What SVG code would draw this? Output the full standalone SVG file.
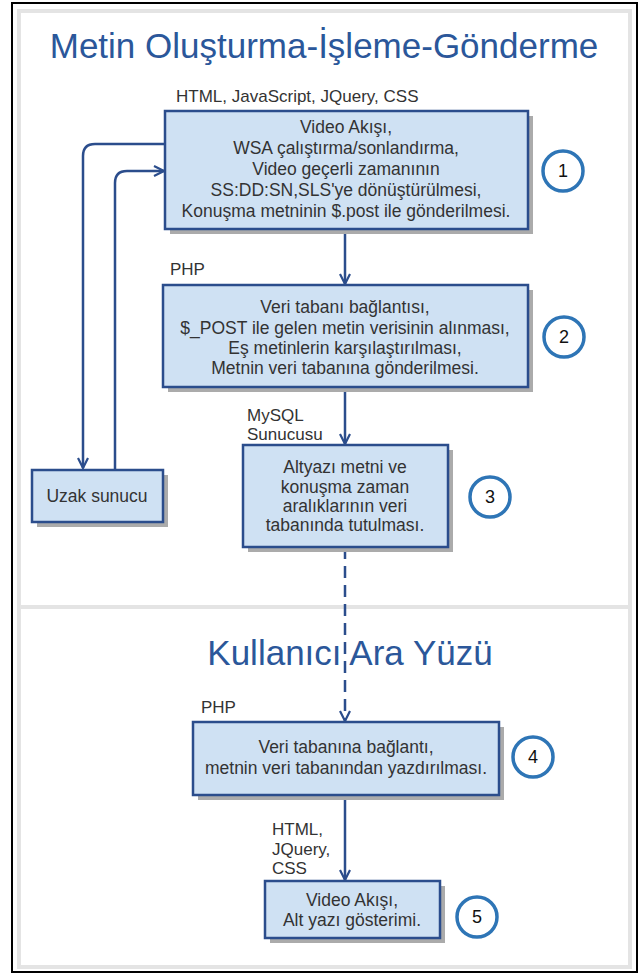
<svg xmlns="http://www.w3.org/2000/svg" width="642" height="974" viewBox="0 0 642 974">
<style>
.box{fill:#cfe1f3;stroke:#2b4d8c;stroke-width:2.5}
.shadow{fill:#ababab}
.t{font-family:"Liberation Sans",Arial,sans-serif;font-size:17.5px;fill:#333;text-anchor:middle}
.lbl{font-family:"Liberation Sans",Arial,sans-serif;font-size:17px;fill:#333}
.title{font-family:"Liberation Sans",Arial,sans-serif;fill:#2b579a;text-anchor:middle}
.num circle{fill:#fff;stroke:#2e75b6;stroke-width:3.5}
.num text{font-family:"Liberation Sans",Arial,sans-serif;font-size:18px;fill:#111;text-anchor:middle}
.conn{fill:none;stroke:#2b4d8c;stroke-width:2.5}
</style>
<defs>
<marker id="arr" viewBox="0 0 12 12" refX="11" refY="6" markerWidth="12" markerHeight="12" markerUnits="userSpaceOnUse" orient="auto">
<path d="M1,1 L11,6 L1,11" fill="none" stroke="#2b4d8c" stroke-width="2.2"/>
</marker>
</defs>
<rect x="0" y="0" width="642" height="974" fill="#fff"/>
<rect x="12" y="3" width="625" height="969" fill="none" stroke="#000" stroke-width="2"/>
<rect x="19" y="11" width="611" height="956" fill="none" stroke="#e4e4e4" stroke-width="4"/>
<line x1="19" y1="607" x2="630" y2="607" stroke="#e4e4e4" stroke-width="4"/>

<text class="title" x="324" y="58" font-size="35">Metin Oluşturma-İşleme-Gönderme</text>
<text class="title" x="350" y="665" font-size="35">Kullanıcı Ara Yüzü</text>

<g id="connectors">
<path class="conn" d="M165,144 H95 Q83,144 83,156 V468" marker-end="url(#arr)"/>
<path class="conn" d="M115,470 V183 Q115,171 127,171 H164" marker-end="url(#arr)"/>
<path class="conn" d="M345,229 V284" marker-end="url(#arr)"/>
<path class="conn" d="M345,387 V444" marker-end="url(#arr)"/>
<path class="conn" d="M345,547 V721" stroke-dasharray="12,7" marker-end="url(#arr)"/>
<path class="conn" d="M345,795 V880" marker-end="url(#arr)"/>
</g>

<g id="node1">
<text class="lbl" x="176" y="102">HTML, JavaScript, JQuery, CSS</text>
<rect class="shadow" x="170" y="116" width="363" height="118"/>
<rect class="box" x="165" y="111" width="363" height="118"/>
<text class="t" x="346" y="133">Video Akışı,</text>
<text class="t" x="346" y="154">WSA çalıştırma/sonlandırma,</text>
<text class="t" x="346" y="175">Video geçerli zamanının</text>
<text class="t" x="346" y="196">SS:DD:SN,SLS'ye dönüştürülmesi,</text>
<text class="t" x="346" y="217">Konuşma metninin $.post ile gönderilmesi.</text>
</g>
<g id="num1" class="num"><circle cx="563" cy="171" r="20"/><text x="563" y="177">1</text></g>

<g id="node2">
<text class="lbl" x="170" y="275">PHP</text>
<rect class="shadow" x="168" y="290" width="365" height="102"/>
<rect class="box" x="163" y="285" width="365" height="102"/>
<text class="t" x="345" y="313">Veri tabanı bağlantısı,</text>
<text class="t" x="345" y="334">$_POST ile gelen metin verisinin alınması,</text>
<text class="t" x="345" y="354">Eş metinlerin karşılaştırılması,</text>
<text class="t" x="345" y="374">Metnin veri tabanına gönderilmesi.</text>
</g>
<g id="num2" class="num"><circle cx="564" cy="337" r="20"/><text x="564" y="343">2</text></g>

<g id="node3">
<text class="lbl" x="247" y="421">MySQL</text>
<text class="lbl" x="247" y="440">Sunucusu</text>
<rect class="shadow" x="248" y="450" width="205" height="102"/>
<rect class="box" x="243" y="445" width="205" height="102"/>
<text class="t" x="345" y="473">Altyazı metni ve</text>
<text class="t" x="345" y="493">konuşma zaman</text>
<text class="t" x="345" y="512">aralıklarının veri</text>
<text class="t" x="345" y="531">tabanında tutulması.</text>
</g>
<g id="num3" class="num"><circle cx="490" cy="497" r="20"/><text x="490" y="503">3</text></g>

<g id="uzak">
<rect class="shadow" x="37" y="475" width="131" height="52"/>
<rect class="box" x="32" y="470" width="131" height="52"/>
<text class="t" x="97" y="502">Uzak sunucu</text>
</g>

<g id="node4">
<text class="lbl" x="201" y="713">PHP</text>
<rect class="shadow" x="198" y="727" width="306" height="73"/>
<rect class="box" x="193" y="722" width="306" height="73"/>
<text class="t" x="346" y="753">Veri tabanına bağlantı,</text>
<text class="t" x="346" y="774">metnin veri tabanından yazdırılması.</text>
</g>
<g id="num4" class="num"><circle cx="533" cy="757" r="20"/><text x="533" y="763">4</text></g>

<g id="node5">
<text class="lbl" x="272" y="835">HTML,</text>
<text class="lbl" x="272" y="855">JQuery,</text>
<text class="lbl" x="272" y="874">CSS</text>
<rect class="shadow" x="270" y="886" width="175" height="57"/>
<rect class="box" x="265" y="881" width="175" height="57"/>
<text class="t" x="352" y="906">Video Akışı,</text>
<text class="t" x="352" y="926">Alt yazı gösterimi.</text>
</g>
<g id="num5" class="num"><circle cx="477" cy="917" r="20"/><text x="477" y="923">5</text></g>
</svg>
